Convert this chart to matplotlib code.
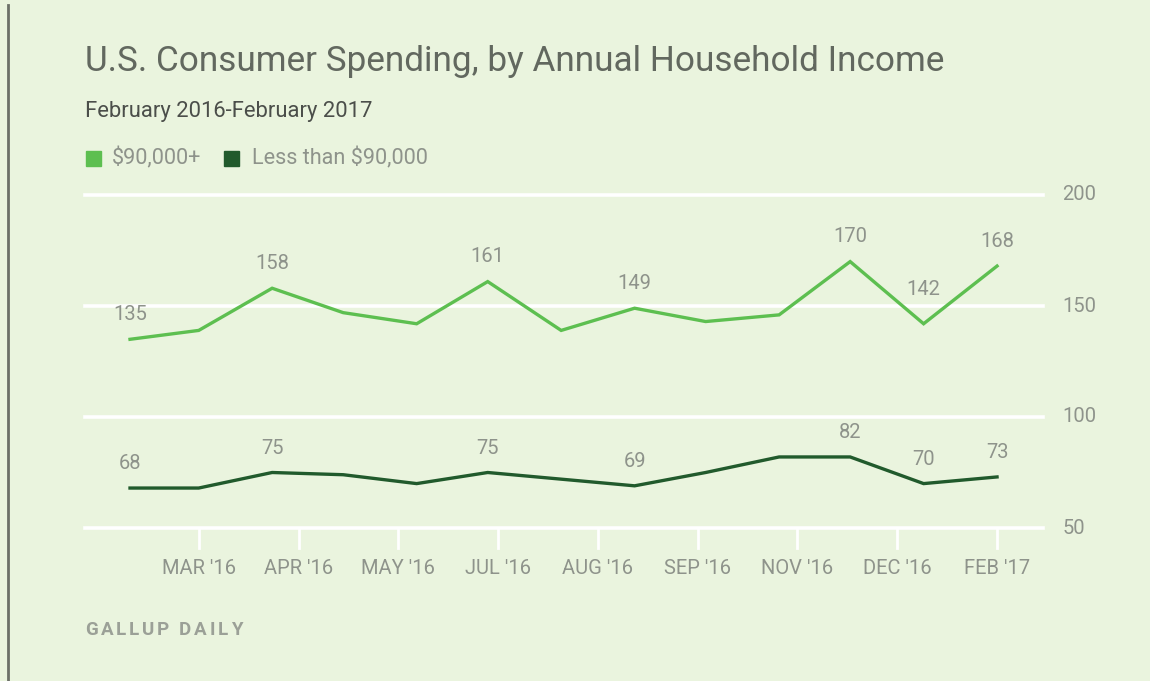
import datetime as dt
import numpy as np
import matplotlib
matplotlib.use("Agg")
import matplotlib.pyplot as plt
import matplotlib.dates as mdates
from matplotlib.lines import Line2D
from matplotlib.patches import Rectangle

# ---------------- data ----------------
months = ["2016-02-01", "2016-03-01", "2016-04-01", "2016-05-01", "2016-06-01",
          "2016-07-01", "2016-08-01", "2016-09-01", "2016-10-01", "2016-11-01",
          "2016-12-01", "2017-01-01", "2017-02-01"]
high_income = [135, 139, 158, 147, 142, 161, 139, 149, 143, 146, 170, 142, 168]
low_income = [68, 68, 75, 74, 70, 75, 72, 69, 75, 82, 82, 70, 73]
labeled_idx = [0, 2, 5, 7, 10, 11, 12]
series_names = ["$90,000+", "Less than $90,000"]
tick_labels = ["MAR '16", "APR '16", "MAY '16", "JUL '16", "AUG '16",
               "SEP '16", "NOV '16", "DEC '16", "FEB '17"]
y_ticks = [50, 100, 150, 200]

title = "U.S. Consumer Spending, by Annual Household Income"
subtitle = "February 2016-February 2017"
source = "GALLUP DAILY"

# ---------------- style ----------------
BG = "#EAF4DE"
LIGHT = "#5DBF50"
DARK = "#215A2C"
GRAY = "#8E938B"
FONT = ["Roboto", "DejaVu Sans"]
plt.rcParams["font.family"] = FONT
FS = 14.5

W, H = 1150, 681
fig = plt.figure(figsize=(W / 100, H / 100), dpi=100)
fig.patch.set_facecolor(BG)

x = mdates.date2num([dt.datetime.strptime(m, "%Y-%m-%d") for m in months])

ax = fig.add_axes([85 / W, 1 - 528 / H, (1043 - 85) / W, (528 - 195) / H])
ax.set_facecolor("none")
ax.set_xlim(x[0] - 19, x[-1] + 19.4)
ax.set_ylim(50, 200)
for s in ax.spines.values():
    s.set_visible(False)
ax.set_xticks([])
ax.set_yticks([])

# gridlines and right-side y labels
for yv in y_ticks:
    ax.axhline(yv, color="white", lw=2.6, zorder=1, clip_on=False)
    ax.annotate(str(yv), (1.0, yv), xycoords=ax.get_yaxis_transform(),
                xytext=(14, 0), textcoords="offset points",
                ha="left", va="center", fontsize=FS, color=GRAY)

# x ticks evenly spaced from Mar 1 2016 to Feb 1 2017
tick_pos = np.linspace(x[1], x[-1], len(tick_labels))
for tp, tl in zip(tick_pos, tick_labels):
    ax.add_line(Line2D([tp, tp], [0, -20 / 333], transform=ax.get_xaxis_transform(),
                       color="white", lw=2.0, clip_on=False, zorder=1))
    ax.text(tp, -41 / 333, tl, transform=ax.get_xaxis_transform(), ha="center",
            va="center", fontsize=FS, color=GRAY)

ax.plot(x, high_income, color=LIGHT, lw=2.4, zorder=3, clip_on=False,
        solid_joinstyle="miter")
ax.plot(x, low_income, color=DARK, lw=2.4, zorder=3, clip_on=False,
        solid_joinstyle="miter")

extra_off = {11: 6.5}
for i in labeled_idx:
    ax.annotate(str(high_income[i]), (x[i], high_income[i]),
                xytext=(0, 18 + extra_off.get(i, 0)),
                textcoords="offset points", ha="center", va="center",
                fontsize=FS, color=GRAY)
    ax.annotate(str(low_income[i]), (x[i], low_income[i]), xytext=(0, 17.5),
                textcoords="offset points", ha="center", va="center",
                fontsize=FS, color=GRAY)

# titles
fig.text(85 / W, 1 - 61 / H, title, fontsize=25.3, color="#62685F", ha="left",
         va="center")
fig.text(85 / W, 1 - 111 / H, subtitle, fontsize=15.8, color="#4B4E4A", ha="left",
         va="center")

# legend
fig.add_artist(Rectangle((86 / W, 1 - 166 / H), 15 / W, 15 / H, color=LIGHT,
                         transform=fig.transFigure))
fig.text(112 / W, 1 - 158 / H, series_names[0], fontsize=15.6, color=GRAY,
         ha="left", va="center")
fig.add_artist(Rectangle((224 / W, 1 - 166 / H), 15 / W, 15 / H, color=DARK,
                         transform=fig.transFigure))
fig.text(252 / W, 1 - 158 / H, series_names[1], fontsize=15.6, color=GRAY,
         ha="left", va="center")

# source line with letter spacing
renderer = fig.canvas.get_renderer()
cx = 85.0
for ch in source:
    t = fig.text(cx / W, 1 - 630 / H, ch, fontsize=13.5, color="#9BA097", ha="left",
                 va="center", fontweight="bold")
    if ch == " ":
        cx += 7
    else:
        cx += t.get_window_extent(renderer).width + 2.8

# left border
fig.add_artist(Line2D([8 / W, 8 / W], [0, 1 - 5 / H], color="#6C7068", lw=2.0,
                      transform=fig.transFigure))

fig.savefig("out.png", dpi=100, facecolor=BG)
